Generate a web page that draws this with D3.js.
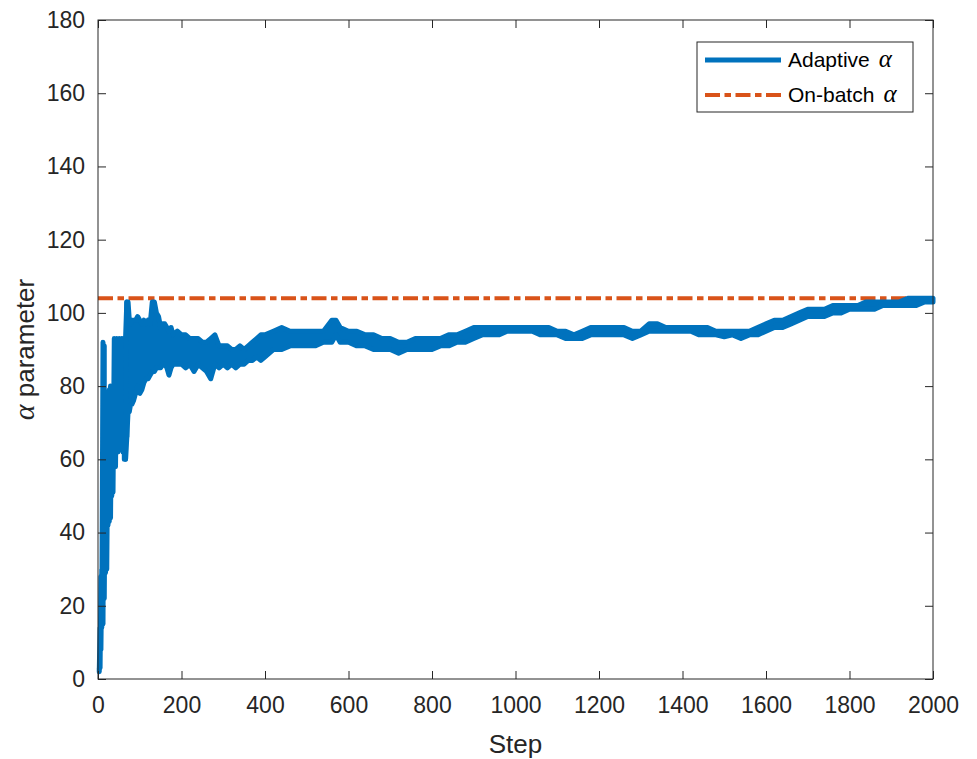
<!DOCTYPE html>
<html>
<head>
<meta charset="utf-8">
<script src="https://cdn.jsdelivr.net/npm/d3@7"></script>
<style>
  body { margin: 0; background: #fff; }
  svg { display: block; }
</style>
</head>
<body>
<svg id="chart" width="977" height="759"></svg>
<script>
// step samples, with the top and bottom of the noisy adaptive alpha band at each
const steps = [
  3, 5, 7, 9, 12, 15, 18, 21, 24, 27, 30, 33, 36, 39, 42, 45, 48, 51, 54, 57,
  60, 63, 66, 69, 72, 75, 78, 81, 85, 90, 95, 100, 105, 110, 115, 120, 125, 130, 135, 140,
  145, 150, 155, 160, 165, 170, 175, 180, 190, 200, 210, 220, 230, 240, 250, 260, 270, 280, 290, 300,
  310, 320, 330, 340, 350, 360, 370, 380, 390, 400, 420, 440, 460, 480, 500, 520, 540, 560, 570, 580,
  600, 620, 640, 660, 680, 700, 720, 740, 760, 780, 800, 820, 840, 860, 880, 900, 920, 940, 960, 980,
  1000, 1020, 1040, 1060, 1080, 1100, 1120, 1140, 1160, 1180, 1200, 1220, 1240, 1260, 1280, 1300, 1320, 1340, 1360, 1380,
  1400, 1420, 1440, 1460, 1480, 1500, 1520, 1540, 1560, 1580, 1600, 1620, 1640, 1660, 1680, 1700, 1720, 1740, 1760, 1780,
  1800, 1820, 1840, 1860, 1880, 1900, 1920, 1940, 1960, 1980, 2000
];
const upper = [
  3, 14, 28, 30, 92, 91, 74, 75, 74, 79, 80, 80, 80, 93, 92, 93, 92, 93, 92, 93,
  93, 92, 93, 103, 103, 98, 97, 98, 98, 98, 99, 98, 97, 98, 97, 98, 97, 103, 103, 100,
  99, 96, 97, 97, 96, 95, 96, 94, 95, 94, 94, 93, 93, 93, 92, 92, 93, 94, 91, 91,
  91, 90, 90, 91, 90, 91, 92, 93, 94, 94, 95, 96, 95, 95, 95, 95, 95, 98, 98, 96,
  95, 95, 94, 94, 93, 93, 92, 92, 93, 93, 93, 93, 94, 94, 95, 96, 96, 96, 96, 96,
  96, 96, 96, 96, 96, 95, 95, 94, 95, 96, 96, 96, 96, 96, 95, 95, 97, 97, 96, 96,
  96, 96, 96, 96, 95, 95, 95, 95, 95, 96, 97, 98, 98, 99, 100, 101, 101, 101, 102, 102,
  102, 102, 103, 103, 103, 103, 103, 104, 104, 104, 104
];
const lower = [
  2, 3, 8, 14, 15, 22, 29, 30, 42, 43, 44, 50, 51, 62, 58, 64, 62, 66, 64, 66,
  62, 60, 60, 66, 73, 73, 75, 75, 76, 78, 80, 78, 79, 81, 82, 82, 83, 84, 84, 85,
  85, 85, 86, 86, 85, 83, 85, 86, 86, 86, 85, 86, 84, 86, 85, 84, 82, 86, 85, 86,
  85, 86, 85, 86, 86, 87, 87, 88, 87, 88, 90, 90, 91, 91, 91, 91, 92, 92, 94, 92,
  92, 91, 91, 90, 90, 90, 89, 90, 90, 90, 90, 91, 91, 92, 92, 93, 94, 94, 94, 95,
  95, 95, 95, 94, 94, 94, 93, 93, 93, 94, 94, 94, 94, 94, 93, 94, 95, 95, 95, 95,
  95, 95, 94, 94, 94, 93.5, 94, 93, 94, 94, 95, 96, 96, 97, 98, 99, 99, 99, 100, 100,
  101, 101, 101, 101, 102, 102, 102, 102, 102, 103, 103
];
const onBatchAlpha = 104;
const xTicks = [0, 200, 400, 600, 800, 1000, 1200, 1400, 1600, 1800, 2000];
const yTicks = [0, 20, 40, 60, 80, 100, 120, 140, 160, 180];
const legendItems = ["Adaptive", "On-batch"];

const pLeft = 98, pRight = 933, pTop = 20, pBottom = 679;
const axisColor = "#262626";
const blue = "#0072BD", orange = "#D95319";
const font = "'Liberation Sans', Arial, Helvetica, sans-serif";
const greek = "'Liberation Serif', 'Times New Roman', serif";
const dashDot = "15,4.5,6.5,4.5";

const svg = d3.select("#chart");
const x = d3.scaleLinear().domain([0, 2000]).range([pLeft, pRight]);
const y = d3.scaleLinear().domain([0, 180]).range([pBottom, pTop]);

// on-batch alpha, dash-dot
svg.append("line")
  .attr("x1", x(0)).attr("x2", x(2000))
  .attr("y1", y(onBatchAlpha)).attr("y2", y(onBatchAlpha))
  .attr("stroke", orange)
  .attr("stroke-width", 4)
  .attr("stroke-dasharray", dashDot);

const samples = steps.map((s, i) => ({ s, hi: upper[i], lo: lower[i] }));

// early wild part: jump top -> bottom at every sample
const early = samples.filter((d) => d.s <= 69);
const pts = early.flatMap((d) => [[d.s, d.hi], [d.s, d.lo]]);
svg.append("path")
  .attr("d", d3.line().x((d) => x(d[0])).y((d) => y(d[1]))(pts))
  .attr("fill", "none")
  .attr("stroke", blue)
  .attr("stroke-width", 5)
  .attr("stroke-linejoin", "round");

// later part: the noise just makes a thick band
const late = samples.filter((d) => d.s >= 66);
svg.append("path")
  .attr("d", d3.area().x((d) => x(d.s)).y0((d) => y(d.lo)).y1((d) => y(d.hi))(late))
  .attr("fill", blue)
  .attr("stroke", blue)
  .attr("stroke-width", 5)
  .attr("stroke-linejoin", "round");

// axes
const xAxis = svg.append("g")
  .attr("transform", `translate(0,${pBottom})`)
  .call(d3.axisBottom(x).tickValues(xTicks).tickFormat(d3.format("d"))
    .tickSizeInner(-8).tickSizeOuter(0).tickPadding(18));
const yAxis = svg.append("g")
  .attr("transform", `translate(${pLeft},0)`)
  .call(d3.axisLeft(y).tickValues(yTicks).tickSizeInner(-8).tickSizeOuter(0).tickPadding(13));
const xTop = svg.append("g")
  .attr("transform", `translate(0,${pTop})`)
  .call(d3.axisTop(x).tickValues(xTicks).tickSizeInner(-8).tickSizeOuter(0).tickFormat(""));
const yRight = svg.append("g")
  .attr("transform", `translate(${pRight},0)`)
  .call(d3.axisRight(y).tickValues(yTicks).tickSizeInner(-8).tickSizeOuter(0).tickFormat(""));

[xAxis, yAxis, xTop, yRight].forEach((g) => {
  g.select(".domain").remove();
  g.selectAll("line").attr("stroke", axisColor).attr("stroke-width", 1);
  g.selectAll("text")
    .attr("fill", axisColor)
    .attr("font-family", font)
    .attr("font-size", 23);
});
svg.append("rect")
  .attr("x", pLeft).attr("y", pTop)
  .attr("width", pRight - pLeft).attr("height", pBottom - pTop)
  .attr("fill", "none")
  .attr("stroke", axisColor)
  .attr("stroke-width", 1);

// axis labels
svg.append("text")
  .attr("x", (pLeft + pRight) / 2)
  .attr("y", 753)
  .attr("text-anchor", "middle")
  .attr("font-family", font)
  .attr("font-size", 26)
  .attr("fill", axisColor)
  .text("Step");

const yl = svg.append("text")
  .attr("transform", `translate(34,${(pTop + pBottom) / 2}) rotate(-90)`)
  .attr("text-anchor", "middle")
  .attr("font-family", font)
  .attr("font-size", 26)
  .attr("fill", axisColor);
yl.append("tspan")
  .attr("font-family", greek)
  .attr("font-style", "italic")
  .attr("font-size", 30)
  .text("α");
yl.append("tspan").text(" parameter");

// legend
const legend = svg.append("g").attr("transform", "translate(697,42)");
legend.append("rect")
  .attr("width", 216).attr("height", 70)
  .attr("fill", "#fff")
  .attr("stroke", axisColor)
  .attr("stroke-width", 1);
const rows = legend.selectAll("g.row")
  .data(legendItems)
  .join("g")
  .attr("class", "row")
  .attr("transform", (d, i) => `translate(0,${18 + i * 35})`);
rows.append("line")
  .attr("x1", 8).attr("x2", 84)
  .attr("stroke", (d, i) => (i === 0 ? blue : orange))
  .attr("stroke-width", (d, i) => (i === 0 ? 5 : 4))
  .attr("stroke-dasharray", (d, i) => (i === 0 ? null : dashDot));
const lt = rows.append("text")
  .attr("x", 91)
  .attr("dy", "0.35em")
  .attr("font-family", font)
  .attr("font-size", 21)
  .attr("fill", "#000");
lt.append("tspan").text((d) => d);
lt.append("tspan")
  .attr("dx", 9)
  .attr("font-family", greek)
  .attr("font-style", "italic")
  .attr("font-size", 25)
  .text("α");
</script>
</body>
</html>
